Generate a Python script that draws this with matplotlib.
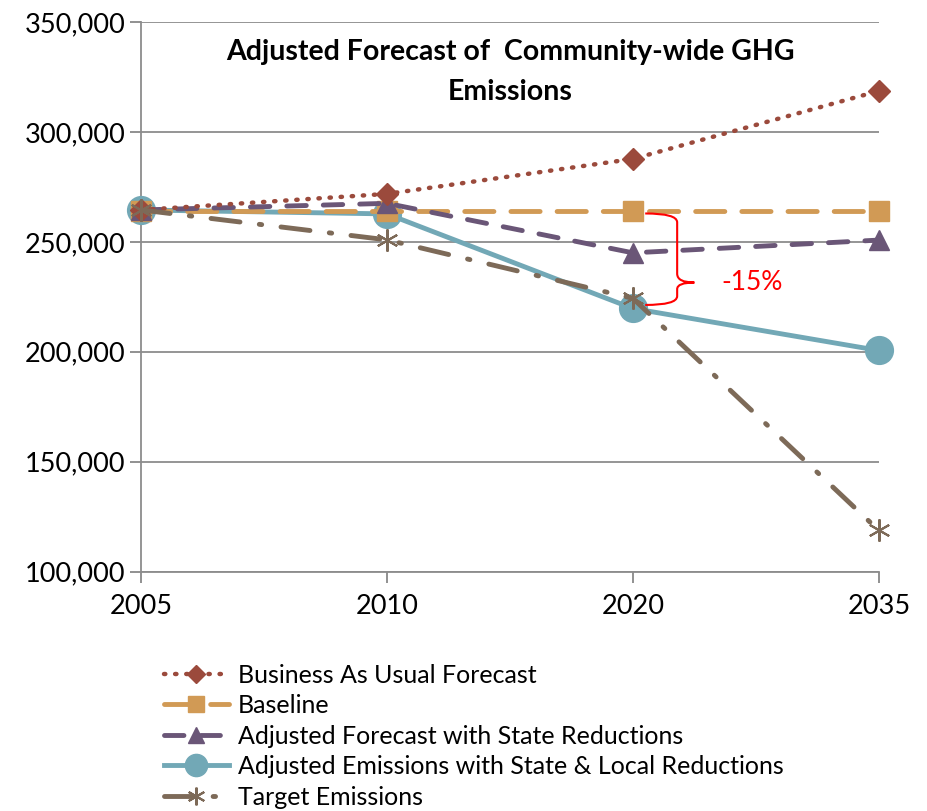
import matplotlib.pyplot as plt
from matplotlib.path import Path
from matplotlib.patches import PathPatch
from matplotlib.ticker import FuncFormatter

plt.rcParams['font.family'] = ['Lato', 'DejaVu Sans']

# Datos
anos = ['2005', '2010', '2020', '2035']
business_as_usual = [264500, 271800, 287700, 318600]
baseline = [264100, 264100, 264100, 264100]
adjusted_state = [264500, 267500, 245000, 250800]
adjusted_state_local = [264500, 262700, 219700, 200600]
target = [264500, 250900, 224300, 118800]

fig = plt.figure(figsize=(9.28, 8.11), dpi=100)
ax = fig.add_axes([0.152, 0.295, 0.795, 0.678])

x = list(range(len(anos)))

ax.plot(x, business_as_usual, color='#9B4A3C', lw=3.2, ls=(0, (0.3, 2.2)),
        dash_capstyle='round', marker='D', ms=11, clip_on=False, zorder=5,
        label='Business As Usual Forecast')
ax.plot(x, baseline, color='#D19A55', lw=3.5, ls=(0, (6, 3.5)),
        dash_capstyle='round', marker='s', ms=15, clip_on=False, zorder=4,
        label='Baseline')
ax.plot(x, adjusted_state, color='#6A5677', lw=3.5, ls=(0, (4, 3.5)),
        dash_capstyle='round', marker='^', ms=15, clip_on=False, zorder=4,
        label='Adjusted Forecast with State Reductions')
ax.plot(x, adjusted_state_local, color='#72A8B6', lw=3.5, ls='-',
        marker='o', ms=20, clip_on=False, zorder=3,
        label='Adjusted Emissions with State & Local Reductions')
ax.plot(x, target, color='#7D6A58', lw=3.5, ls=(0, (6, 4, 0.5, 4)),
        dash_capstyle='round', marker=(6, 2, 0), ms=16, mew=1.5,
        clip_on=False, zorder=6, label='Target Emissions')

# Chave vermelha com -15%
topo = baseline[2] - 1200
base = target[2] - 3000
meio = 231500
x0, x1, x2 = 2.05, 2.18, 2.25
verts = [(x0, topo), (x1, topo), (x1, topo - 4000),
         (x1, meio + 4000), (x1, meio), (x2, meio),
         (x1, meio), (x1, meio - 3000),
         (x1, base + 4000), (x1, base), (x0, base)]
codes = [Path.MOVETO, Path.CURVE3, Path.CURVE3,
         Path.LINETO, Path.CURVE3, Path.CURVE3,
         Path.CURVE3, Path.CURVE3,
         Path.LINETO, Path.CURVE3, Path.CURVE3]
ax.add_patch(PathPatch(Path(verts, codes), fill=False, ec='red', lw=1.5, zorder=7))
ax.text(2.36, meio, '-15%', color='red', fontsize=19, va='center', ha='left')

ax.set_xlim(0, 3)
ax.set_ylim(100000, 350000)
ax.set_xticks(x)
ax.set_xticklabels(anos)
ax.set_yticks(range(100000, 350001, 50000))
ax.yaxis.set_major_formatter(FuncFormatter(lambda v, p: f'{int(v):,}'))
ax.tick_params(labelsize=19.5, length=8, color='#888888', width=1.3)
ax.tick_params(axis='x', pad=8)
ax.grid(axis='y', color='#8c8c8c', lw=1.3)
ax.set_axisbelow(True)
for s in ['top', 'right']:
    ax.spines[s].set_visible(False)
for s in ['left', 'bottom']:
    ax.spines[s].set_color('#8c8c8c')
    ax.spines[s].set_linewidth(1.3)

ax.text(1.5, 342000, 'Adjusted Forecast of  Community-wide GHG\nEmissions',
        ha='center', va='top', fontsize=20.5, fontweight='bold', linespacing=1.65)

fig.legend(loc='upper left', bbox_to_anchor=(0.163, 0.197), frameon=False,
           fontsize=18, handlelength=2.6, handletextpad=0.35, labelspacing=0.3,
           borderpad=0, markerscale=0.8)

fig.savefig('out.png', dpi=100)
